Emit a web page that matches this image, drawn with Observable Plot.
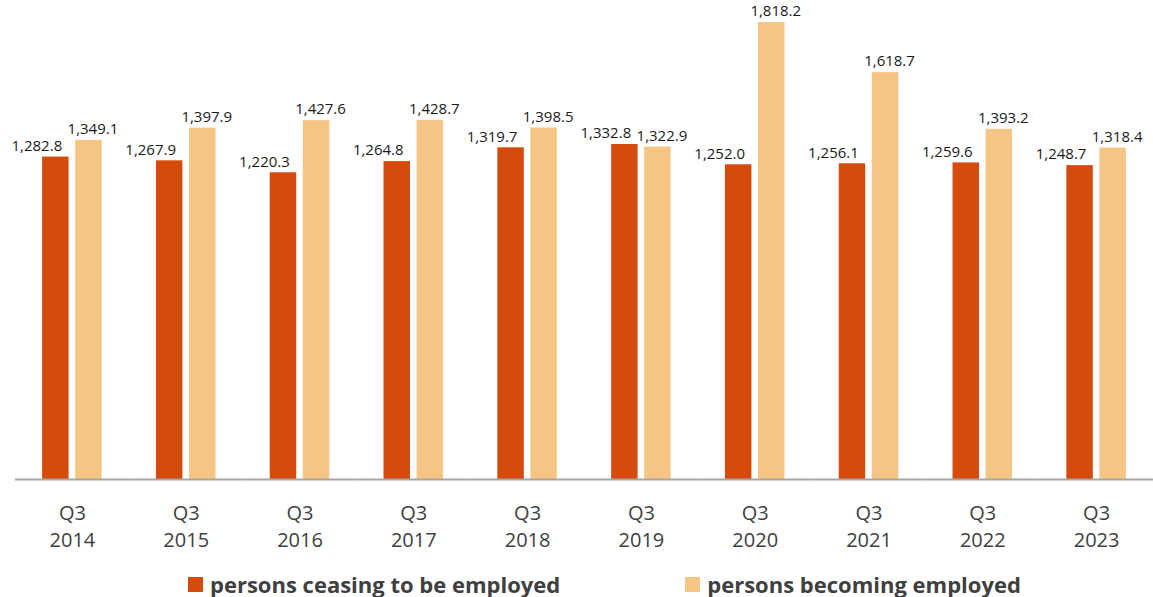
<!DOCTYPE html>
<html>
<head>
<meta charset="utf-8">
<script src="https://cdn.jsdelivr.net/npm/d3@7"></script>
<script src="https://cdn.jsdelivr.net/npm/@observablehq/plot@0.6"></script>
<style>
  body { margin: 0; background: #fff; font-family: "Open Sans", sans-serif; }
  #legend { display: flex; align-items: center; margin-left: 188px; margin-top: 9px; height: 30px; }
  .item { display: flex; align-items: center; font-weight: 700; font-size: 22px; color: #404040; }
  .sw { width: 15px; height: 15px; margin-right: 7px; }
</style>
</head>
<body>
<div id="chart"></div>
<div id="legend"></div>
<script>
const years = ["2014", "2015", "2016", "2017", "2018", "2019", "2020", "2021", "2022", "2023"];
const quarter = "Q3";
const seriesNames = ["persons ceasing to be employed", "persons becoming employed"];
const ceasing = [1282.8, 1267.9, 1220.3, 1264.8, 1319.7, 1332.8, 1252.0, 1256.1, 1259.6, 1248.7];
const becoming = [1349.1, 1397.9, 1427.6, 1428.7, 1398.5, 1322.9, 1818.2, 1618.7, 1393.2, 1318.4];
const colors = ["#D54B0C", "#F5C584"];

const rows = [];
years.forEach((y, i) => {
  rows.push({year: y, series: seriesNames[0], value: ceasing[i]});
  rows.push({year: y, series: seriesNames[1], value: becoming[i]});
});
const fmt = d3.format(",.1f");
const ymax = d3.max(rows, d => d.value);

const chart = Plot.plot({
  width: 1153,
  height: 560,
  marginLeft: 15,
  marginRight: 0,
  marginTop: 22,
  marginBottom: 81,
  style: {fontFamily: "'Open Sans', sans-serif", background: "#fff"},
  fx: {domain: years, padding: 0, round: false, label: null},
  x: {domain: seriesNames, paddingInner: 0.2, paddingOuter: 0.82, round: false, axis: null},
  y: {domain: [0, ymax], axis: null},
  color: {domain: seriesNames, range: colors},
  marks: [
    Plot.barY(rows, {fx: "year", x: "series", y: "value", fill: "series"}),
    Plot.ruleY([0], {stroke: "#A6A6A6", strokeWidth: 2}),
    Plot.text(rows.filter(d => d.series === seriesNames[0]), {
      fx: "year", x: "series", y: "value", text: d => fmt(d.value),
      dy: -11, dx: -19, fontSize: 15, fill: "#1a1a1a"
    }),
    Plot.text(rows.filter(d => d.series === seriesNames[1]), {
      fx: "year", x: "series", y: "value", text: d => fmt(d.value),
      dy: -11, dx: 4, fontSize: 15, fill: "#1a1a1a"
    }),
    Plot.axisFx({
      anchor: "bottom",
      tickSize: 0, tickPadding: 21, fontSize: 20, lineHeight: 1.35,
      tickFormat: d => `${quarter}\n${d}`, color: "#404040", label: null
    })
  ]
});
document.getElementById("chart").appendChild(chart);

const legend = document.getElementById("legend");
seriesNames.forEach((name, i) => {
  const item = document.createElement("div");
  item.className = "item";
  if (i > 0) item.style.marginLeft = "125px";
  const sw = document.createElement("div");
  sw.className = "sw";
  sw.style.background = colors[i];
  const t = document.createElement("span");
  t.textContent = name;
  item.appendChild(sw);
  item.appendChild(t);
  legend.appendChild(item);
});
</script>
</body>
</html>
